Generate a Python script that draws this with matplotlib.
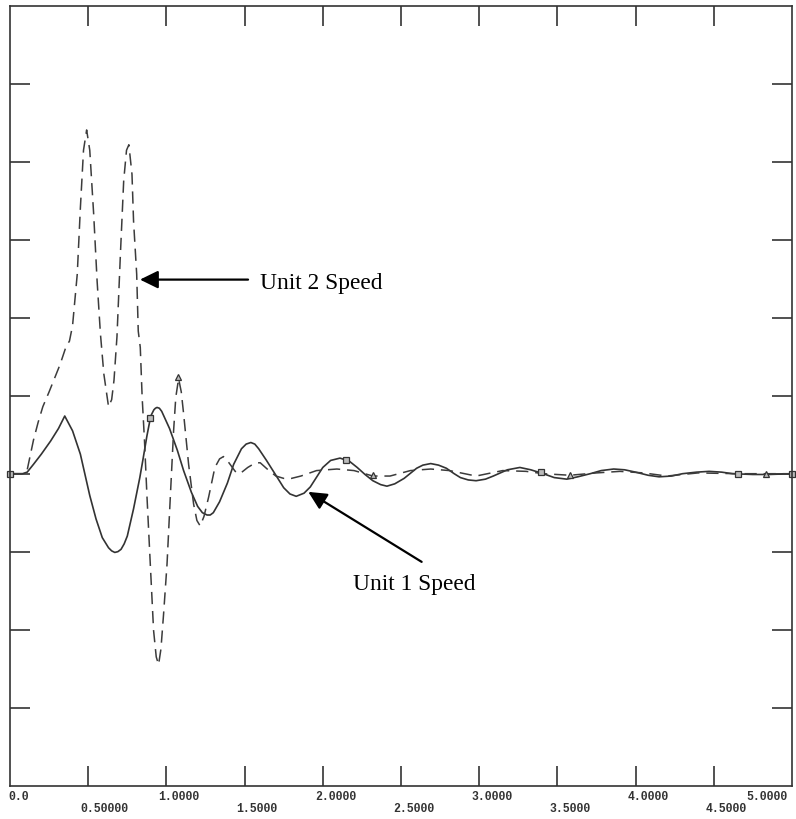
import numpy as np
import matplotlib
matplotlib.use("Agg")
from matplotlib import pyplot as plt
from matplotlib.transforms import blended_transform_factory, ScaledTranslation

# Unit 1 speed (solid)
unit1_t = [0.00, 0.08, 0.11, 0.15, 0.20, 0.26, 0.31, 0.35, 0.40, 0.45,
           0.51, 0.55, 0.59, 0.63, 0.65, 0.67, 0.69, 0.71, 0.73, 0.75,
           0.79, 0.83, 0.85, 0.875, 0.90, 0.92, 0.93, 0.94, 0.955, 0.97,
           1.02, 1.07, 1.11, 1.16, 1.20, 1.23, 1.26, 1.28, 1.30, 1.34,
           1.39, 1.43, 1.48, 1.51, 1.54, 1.565, 1.59, 1.64, 1.70, 1.75,
           1.79, 1.83, 1.88, 1.92, 2.00, 2.05, 2.11, 2.17, 2.22, 2.27,
           2.32, 2.37, 2.41, 2.46, 2.52, 2.60, 2.64, 2.69, 2.74, 2.79,
           2.84, 2.88, 2.93, 2.98, 3.04, 3.09, 3.18, 3.26, 3.33, 3.41,
           3.48, 3.56, 3.63, 3.71, 3.78, 3.86, 3.93, 4.00, 4.08, 4.15,
           4.23, 4.30, 4.39, 4.47, 4.55, 4.62, 4.75, 4.85, 5.00]
unit1_v = [0.00, 0.00, 0.02, 0.12, 0.25, 0.42, 0.58, 0.74, 0.55, 0.25,
           -0.28, -0.58, -0.82, -0.95, -0.99, -1.01, -1.00, -0.97, -0.90, -0.80,
           -0.45, -0.05, 0.18, 0.48, 0.74, 0.82, 0.84, 0.85, 0.84, 0.80,
           0.58, 0.30, 0.04, -0.24, -0.42, -0.50, -0.53, -0.53, -0.50, -0.36,
           -0.12, 0.12, 0.32, 0.38, 0.40, 0.38, 0.32, 0.17, -0.02, -0.18,
           -0.26, -0.29, -0.25, -0.17, 0.08, 0.17, 0.20, 0.16, 0.08, -0.01,
           -0.09, -0.14, -0.16, -0.13, -0.06, 0.07, 0.11, 0.13, 0.11, 0.07,
           0.00, -0.05, -0.08, -0.09, -0.07, -0.03, 0.05, 0.08, 0.05, 0.00,
           -0.05, -0.07, -0.04, 0.00, 0.04, 0.06, 0.05, 0.02, -0.02, -0.04,
           -0.03, 0.00, 0.02, 0.03, 0.02, 0.00, -0.01, -0.01, 0.00]

# Unit 2 speed (dashed)
unit2_t = [0.00, 0.08, 0.11, 0.15, 0.18, 0.21, 0.25, 0.28, 0.32, 0.36,
           0.38, 0.40, 0.43, 0.45, 0.47, 0.49, 0.51, 0.535, 0.557, 0.578,
           0.60, 0.63, 0.65, 0.665, 0.684, 0.706, 0.727, 0.745, 0.76, 0.78,
           0.79, 0.81, 0.82, 0.833, 0.845, 0.86, 0.876, 0.897, 0.918, 0.935,
           0.95, 0.965, 0.982, 1.004, 1.025, 1.046, 1.06, 1.078, 1.095, 1.11,
           1.142, 1.174, 1.195, 1.216, 1.24, 1.27, 1.31, 1.34, 1.365, 1.40,
           1.44, 1.47, 1.52, 1.57, 1.60, 1.65, 1.70, 1.75, 1.80, 1.86,
           1.96, 2.09, 2.20, 2.32, 2.43, 2.56, 2.69, 2.81, 2.98, 3.15,
           3.30, 3.41, 3.58, 3.75, 3.90, 4.05, 4.20, 4.40, 4.65, 5.00]
unit2_v = [0.00, 0.00, 0.05, 0.43, 0.66, 0.86, 1.05, 1.20, 1.40, 1.64,
           1.70, 1.90, 2.56, 3.41, 4.15, 4.41, 4.15, 3.33, 2.47, 1.80,
           1.28, 0.86, 0.95, 1.20, 1.76, 2.82, 3.76, 4.15, 4.22, 3.84,
           3.24, 2.56, 1.83, 1.62, 0.98, 0.42, -0.30, -1.16, -2.01, -2.35,
           -2.45, -2.25, -1.80, -1.16, -0.30, 0.55, 0.98, 1.22, 1.05, 0.77,
           0.12, -0.39, -0.60, -0.67, -0.55, -0.30, 0.08, 0.19, 0.22, 0.14,
           0.03, 0.00, 0.08, 0.14, 0.14, 0.05, -0.03, -0.06, -0.06, -0.03,
           0.04, 0.06, 0.04, -0.03, -0.03, 0.04, 0.06, 0.04, -0.03, 0.04,
           0.03, 0.00, -0.02, 0.01, 0.03, 0.01, -0.03, 0.01, 0.00, 0.00]

# plot symbols
unit1_mark_t = [0.0, 0.895, 2.147, 3.398, 4.654, 5.0]
unit1_mark_v = [0.0, 0.72, 0.18, 0.02, 0.0, 0.0]
unit2_mark_t = [1.076, 2.323, 3.579, 4.835]
unit2_mark_v = [1.24, -0.02, -0.02, -0.01]

x_ticks = [0.0, 0.5, 1.0, 1.5, 2.0, 2.5, 3.0, 3.5, 4.0, 4.5, 5.0]
x_labels = ["0.0", "0.50000", "1.0000", "1.5000", "2.0000", "2.5000",
            "3.0000", "3.5000", "4.0000", "4.5000", "5.0000"]

fig = plt.figure(figsize=(7.96, 8.19), dpi=100)
ax = fig.add_axes([10 / 796, 1 - 785.5 / 819, 782 / 796, 779.5 / 819])

ax.plot(unit1_t, unit1_v, color="#333333", lw=1.2)
ax.plot(unit2_t, unit2_v, color="#3c3c3c", lw=1.1, dashes=(8, 4.5))
ax.plot(unit1_mark_t, unit1_mark_v, "s", ms=4.5, mfc="#bbbbbb", mec="#333333", mew=0.9, clip_on=False)
ax.plot(unit2_mark_t, unit2_mark_v, "^", ms=4.5, mfc="#bbbbbb", mec="#333333", mew=0.9)

ax.set_xlim(0, 5)
ax.set_ylim(-4, 6)
ax.set_xticks(x_ticks[1:-1])
ax.set_yticks(np.arange(-3, 6))
ax.tick_params(direction="in", length=14.4, width=1.1, color="#222222",
               top=True, right=True, labelleft=False, labelbottom=False)
for s in ax.spines.values():
    s.set_linewidth(1.2)
    s.set_color("#333333")

# tick labels, staggered on two rows
trans = blended_transform_factory(ax.transData, ax.transAxes)
for x, lab in zip(x_ticks, x_labels):
    half = (x * 2) % 2 == 1
    dx = -8
    ha = "left"
    if x == 0:
        dx = -2
    if x == 5:
        dx, ha = -4, "right"
    dy = -18 if half else -5.5
    off = ScaledTranslation(dx / 100, dy / 100, fig.dpi_scale_trans)
    ax.text(x, 0, lab, transform=trans + off, ha=ha, va="top",
            family="Liberation Mono", fontsize=8.3, fontweight="bold",
            color="#333333")

# annotations
arrow = dict(arrowstyle="-|>,head_length=0.55,head_width=0.27", color="black",
             lw=1.6, mutation_scale=20, shrinkA=0, shrinkB=0)
ax.annotate("", xy=(0.831, 2.49), xytext=(1.522, 2.49), arrowprops=arrow)
ax.text(1.598, 2.374, "Unit 2 Speed", family="Liberation Serif", fontsize=16.8,
        va="baseline", ha="left")
ax.annotate("", xy=(1.907, -0.233), xytext=(2.632, -1.131), arrowprops=arrow)
ax.text(2.195, -1.494, "Unit 1 Speed", family="Liberation Serif", fontsize=16.8,
        va="baseline", ha="left")

fig.savefig("out.png", dpi=100)
